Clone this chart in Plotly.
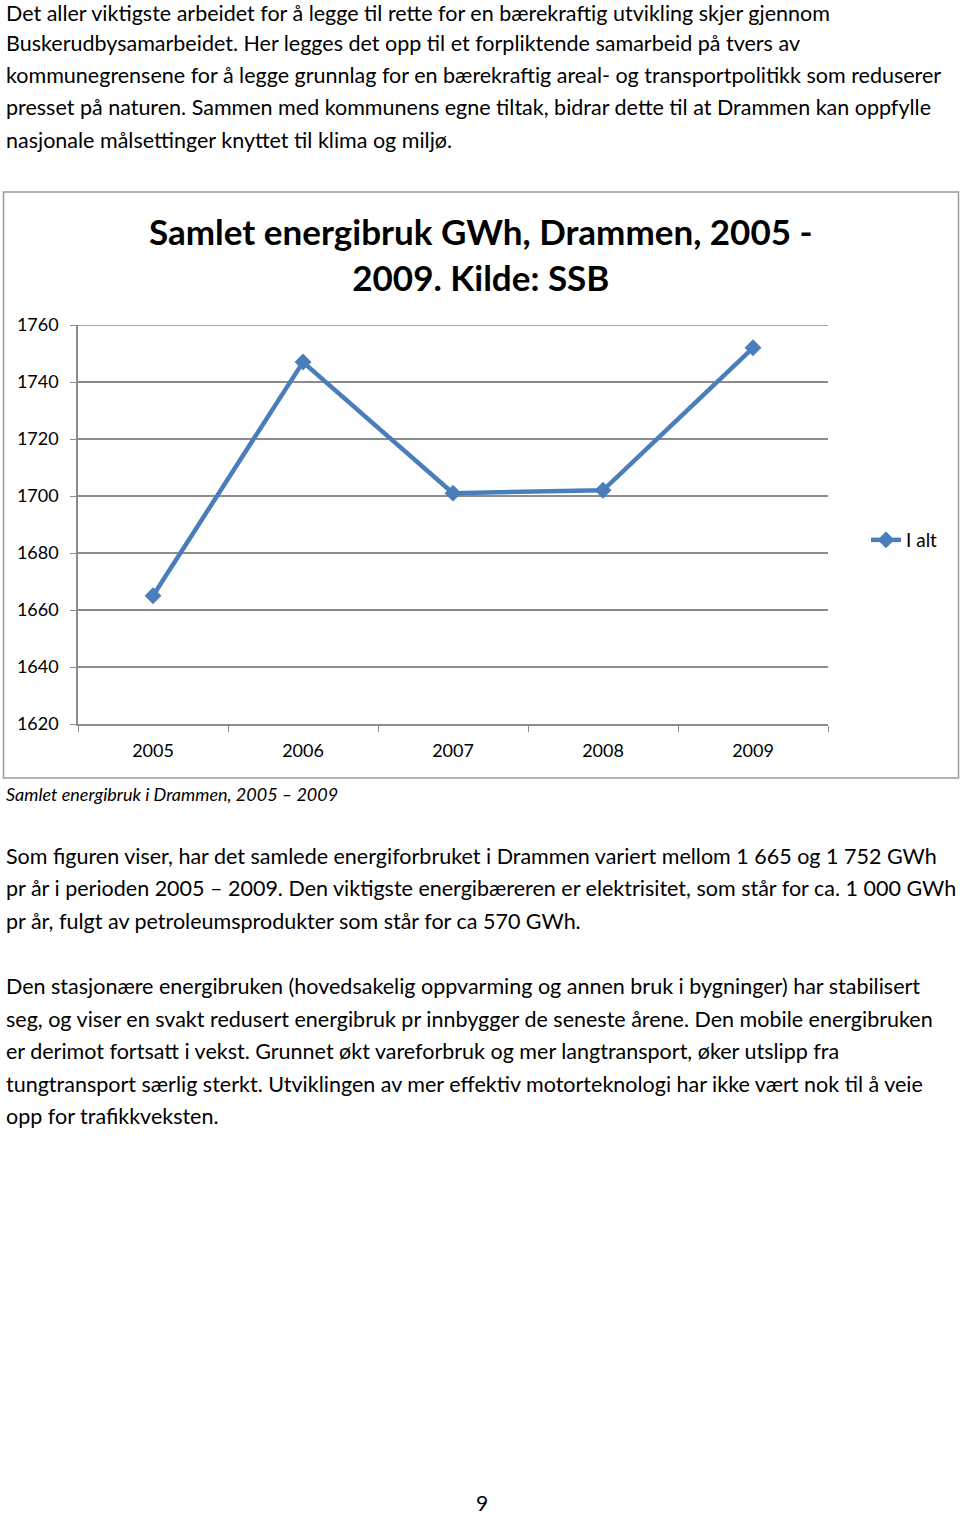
import plotly.graph_objects as go

W, H = 960, 1515

years = ["2005", "2006", "2007", "2008", "2009"]
values = [1665, 1747, 1701, 1702, 1752]
y_ticks = [1620, 1640, 1660, 1680, 1700, 1720, 1740, 1760]
series_name = "I alt"
title_text = "Samlet energibruk GWh, Drammen, 2005 -<br>2009. Kilde: SSB"
caption = "Samlet energibruk i Drammen, 2005 – 2009"

para_top = [
    "Det aller viktigste arbeidet for å legge til rette for en bærekraftig utvikling skjer gjennom",
    "Buskerudbysamarbeidet. Her legges det opp til et forpliktende samarbeid på tvers av",
    "kommunegrensene for å legge grunnlag for en bærekraftig areal- og transportpolitikk som reduserer",
    "presset på naturen. Sammen med kommunens egne tiltak, bidrar dette til at Drammen kan oppfylle",
    "nasjonale målsettinger knyttet til klima og miljø.",
]
para_top_y = [13, 43, 75, 107, 140]

para_bottom = [
    "Som figuren viser, har det samlede energiforbruket i Drammen variert mellom 1 665 og 1 752 GWh",
    "pr år i perioden 2005 – 2009. Den viktigste energibæreren er elektrisitet, som står for ca. 1 000 GWh",
    "pr år, fulgt av petroleumsprodukter som står for ca 570 GWh.",
    "Den stasjonære energibruken (hovedsakelig oppvarming og annen bruk i bygninger) har stabilisert",
    "seg, og viser en svakt redusert energibruk pr innbygger de seneste årene. Den mobile energibruken",
    "er derimot fortsatt i vekst. Grunnet økt vareforbruk og mer langtransport, øker utslipp fra",
    "tungtransport særlig sterkt. Utviklingen av mer effektiv motorteknologi har ikke vært nok til å veie",
    "opp for trafikkveksten.",
]
para_bottom_y = [856, 888, 921, 986, 1019, 1051, 1084, 1116]

FONT = "Lato"
TXT = "#000000"
GRID = "#8c8c8c"
BLUE = "#4a7ebb"


def py(px):
    return 1 - px / H


def px_x(px):
    return px / W


fig = go.Figure()
fig.add_trace(go.Scatter(
    x=years, y=values, name=series_name, mode="lines+markers",
    line=dict(color=BLUE, width=4.5),
    marker=dict(symbol="diamond", size=13, color=BLUE),
    showlegend=True,
))

ann = []
for t, y in zip(para_top + para_bottom, para_top_y + para_bottom_y):
    ann.append(dict(x=px_x(4), y=py(y), xref="paper", yref="paper", text=t,
                    showarrow=False, xanchor="left", yanchor="middle",
                    font=dict(family=FONT, size=21.5, color=TXT)))
ann.append(dict(x=px_x(4), y=py(794), xref="paper", yref="paper",
                text="<i>" + caption + "</i>", showarrow=False,
                xanchor="left", yanchor="middle",
                font=dict(family=FONT, size=18, color=TXT)))
ann.append(dict(x=px_x(482), y=py(1502), xref="paper", yref="paper", text="9",
                showarrow=False, xanchor="center", yanchor="middle",
                font=dict(family=FONT, size=21, color=TXT)))
ann.append(dict(x=px_x(481), y=py(254), xref="paper", yref="paper",
                text="<b>" + title_text + "</b>", showarrow=False,
                xanchor="center", yanchor="middle", align="center",
                font=dict(family=FONT, size=35, color=TXT)))

fig.update_layout(
    width=W, height=H,
    margin=dict(l=0, r=0, t=0, b=0),
    paper_bgcolor="white", plot_bgcolor="white",
    font=dict(family=FONT, color=TXT),
    annotations=ann,
    shapes=[
        dict(type="rect", xref="paper", yref="paper",
             x0=px_x(3.5), x1=px_x(958.5), y0=py(778), y1=py(192),
             line=dict(color="#9a9a9a", width=1.5)),
        dict(type="line", xref="x domain", yref="y", x0=0, x1=1,
             y0=y_ticks[-1], y1=y_ticks[-1], line=dict(color=GRID, width=1.5),
             layer="below"),
    ],
    xaxis=dict(
        domain=[px_x(78), px_x(828)], type="category",
        categoryorder="array", categoryarray=years,
        range=[-0.5, 4.5], showgrid=False, zeroline=False,
        showline=True, linecolor=GRID, linewidth=1.5,
        ticks="outside", tickson="boundaries", ticklen=6, tickcolor=GRID,
        tickfont=dict(family=FONT, size=18, color=TXT),
        ticklabelstandoff=10, automargin=False,
    ),
    yaxis=dict(
        domain=[py(724), py(325)], range=[1620, 1760],
        tickvals=y_ticks, showgrid=True, gridcolor=GRID, gridwidth=1.5,
        zeroline=False, showline=True, linecolor=GRID, linewidth=1.5,
        ticks="outside", ticklen=6, tickcolor=GRID,
        tickfont=dict(family=FONT, size=18, color=TXT),
        ticklabelstandoff=8, automargin=False,
    ),
    legend=dict(x=px_x(866), y=py(540), xanchor="left", yanchor="middle",
                font=dict(family=FONT, size=19, color=TXT),
                bgcolor="rgba(0,0,0,0)", itemwidth=30),
)

fig.write_html(
    "out.html",
    config={"displayModeBar": False},
    post_script="document.body.style.margin='0';",
)
